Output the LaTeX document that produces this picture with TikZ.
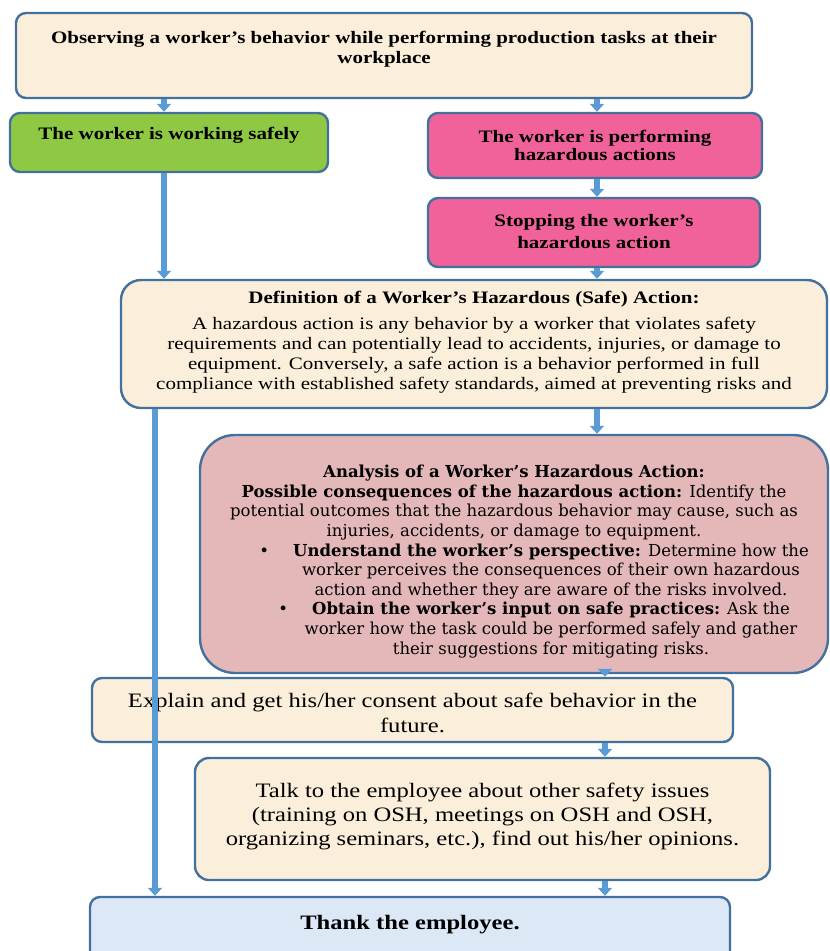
\documentclass[tikz,border=0pt]{standalone}
\usepackage{fontspec}
\setmainfont{Liberation Serif}[FakeStretch=1.2]
\newfontfamily\analysisfont{DejaVu Serif}
\usetikzlibrary{arrows.meta}

\definecolor{frame}{HTML}{41719C}
\definecolor{arrowblue}{HTML}{5B9BD5}
\definecolor{cream}{HTML}{FBEEDA}
\definecolor{safegreen}{HTML}{8FC843}
\definecolor{hazpink}{HTML}{F2629A}
\definecolor{dustypink}{HTML}{E4B7B9}
\definecolor{paleblue}{HTML}{DCE8F5}

% struts that only add depth below / height above a line
\newcommand{\lowstrut}[1]{\rule[-#1pt]{0pt}{#1pt}}
\newcommand{\highstrut}[1]{\rule{0pt}{#1pt}}

\begin{document}
\begin{tikzpicture}[x=1pt,y=-1pt,
    box/.style={draw=frame,line width=2.4pt,rounded corners=10pt,align=center,inner sep=0pt},
    headtext/.style={font=\bfseries\fontsize{17.5}{20}\selectfont},
    bodytext/.style={font=\fontsize{17.5}{20}\selectfont},
    bigtext/.style={font=\fontsize{20.5}{25}\selectfont},
    flow/.style={draw=arrowblue,line width=6.5pt,-{Triangle[width=14pt,length=8pt]}}]
    \useasboundingbox (0,0) rectangle (830,951);

    % columns of the connectors
    \coordinate (lefta) at (164,0);
    \coordinate (leftb) at (155,0);
    \coordinate (righta) at (597,0);
    \coordinate (rightb) at (605,0);

    \node[box,fill=cream,headtext,minimum width=736pt,minimum height=85pt] (observe) at (384,55.5)
        {Observing a worker’s behavior while performing production tasks at their\\workplace\lowstrut{17}};
    \node[box,fill=safegreen,headtext,minimum width=318pt,minimum height=59pt] (safe) at (169,142.5)
        {The worker is working safely\lowstrut{19}};
    \node[box,fill=hazpink,minimum width=334pt,minimum height=65pt,
        font=\bfseries\fontsize{17.5}{18}\selectfont] (hazard) at (595,145.5)
        {The worker is performing\\hazardous actions};
    \node[box,fill=hazpink,minimum width=332pt,minimum height=69pt,
        font=\bfseries\fontsize{17.5}{22}\selectfont] (stop) at (594,232.5)
        {Stopping the worker’s\\hazardous action\lowstrut{3}};
    \node[box,fill=cream,bodytext,rounded corners=20pt,minimum width=706pt,minimum height=128pt] (define) at (474,344)
        {\textbf{Definition of a Worker’s Hazardous (Safe) Action:}\\[6pt]
        A hazardous action is any behavior by a worker that violates safety\\
        requirements and can potentially lead to accidents, injuries, or damage to\\
        equipment. Conversely, a safe action is a behavior performed in full\\
        compliance with established safety standards, aimed at preventing risks and\lowstrut{7}};
    \node[box,fill=dustypink,rounded corners=35pt,minimum width=628pt,minimum height=238pt,
        font=\analysisfont\fontsize{16.5}{19.6}\selectfont] (analyse) at (514,554)
        {\highstrut{27.5}\textbf{Analysis of a Worker’s Hazardous Action:}\\
        \textbf{Possible consequences of the hazardous action:} Identify the\\
        potential outcomes that the hazardous behavior may cause, such as\\
        injuries, accidents, or damage to equipment.\\
        \hspace*{74pt}\llap{\textbullet\hspace{24pt}}\textbf{Understand the worker’s perspective:} Determine how the\\
        \hspace*{74pt}worker perceives the consequences of their own hazardous\\
        \hspace*{74pt}action and whether they are aware of the risks involved.\\
        \hspace*{74pt}\llap{\textbullet\hspace{24pt}}\textbf{Obtain the worker’s input on safe practices:} Ask the\\
        \hspace*{74pt}worker how the task could be performed safely and gather\\
        \hspace*{74pt}their suggestions for mitigating risks.};
    \node[box,fill=cream,bigtext,minimum width=641pt,minimum height=64pt] (explain) at (412.5,710)
        {\highstrut{20}Explain and get his/her consent about safe behavior in the\\future.};
    \node[box,fill=cream,rounded corners=14pt,minimum width=575pt,minimum height=122pt,
        font=\fontsize{20.5}{24}\selectfont] (talk) at (482.5,819)
        {Talk to the employee about other safety issues\\
        (training on OSH, meetings on OSH and OSH,\\
        organizing seminars, etc.), find out his/her opinions.\lowstrut{9}};
    \node[box,fill=paleblue,bigtext,minimum width=640pt,minimum height=68pt] (thank) at (410,931)
        {\textbf{Thank the employee.}\lowstrut{18}};

    % connectors
    \draw[flow] (observe.south -| lefta) -- (safe.north -| lefta);
    \draw[flow] (observe.south -| righta) -- (hazard.north -| righta);
    \draw[flow] (hazard.south -| righta) -- (stop.north -| righta);
    \draw[flow] (safe.south -| lefta) -- (define.north -| lefta);
    \draw[flow] (stop.south -| righta) -- (define.north -| righta);
    \draw[flow] (define.south -| righta) -- (analyse.north -| righta);
    \draw[flow] (define.south -| leftb) -- (thank.north -| leftb);
    \draw[flow] (analyse.south -| rightb) -- (explain.north -| rightb);
    \draw[flow] (explain.south -| rightb) -- (talk.north -| rightb);
    \draw[flow] (talk.south -| rightb) -- (thank.north -| rightb);
\end{tikzpicture}
\end{document}
